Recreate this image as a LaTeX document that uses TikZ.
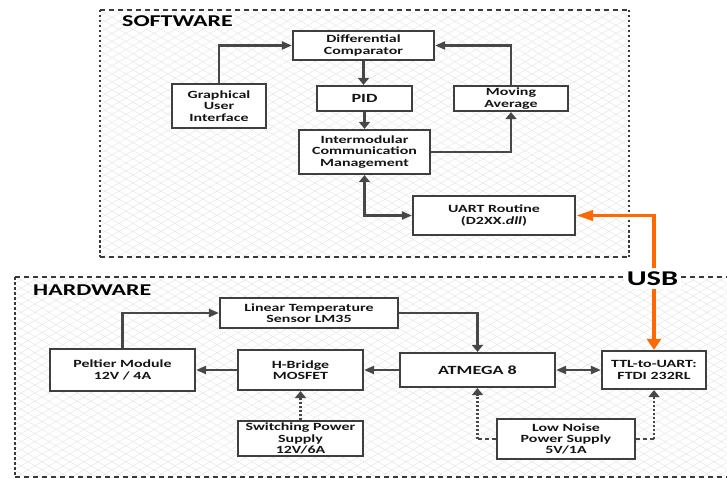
\documentclass[tikz,border=0pt]{standalone}
\usepackage{fontspec}
\setmainfont{Carlito}[FakeStretch=1.45]
\usetikzlibrary{arrows.meta,patterns.meta}
\definecolor{boxc}{HTML}{3F3F3F}
\definecolor{linec}{HTML}{474747}
\definecolor{txtc}{HTML}{151515}
\definecolor{usbc}{HTML}{FF6A00}
\definecolor{hatchc}{HTML}{E2E2E2}
\definecolor{framec}{HTML}{3A3A3A}
\tikzset{
  Htip/.tip={Triangle[length=10pt,width=8pt]},
  Vtip/.tip={Triangle[length=7pt,width=11pt]},
  OHtip/.tip={Triangle[length=17pt,width=10pt]},
  OVtip/.tip={Triangle[length=11pt,width=14pt]},
  blk/.style={draw=boxc, line width=2.2pt, fill=white, align=center, inner sep=0pt,
    text=txtc, font=\bfseries\fontsize{11pt}{11.3pt}\selectfont},
  bigblk/.style={blk, font=\bfseries\fontsize{12.5pt}{13pt}\selectfont},
  conn/.style={draw=linec, line width=2.2pt},
  hdash/.style={line width=2.2pt, draw=framec, dash pattern=on 5pt off 4pt},
  vdot/.style={line width=2.2pt, draw=framec, dash pattern=on 2.5pt off 2.5pt},
  pwrh/.style={line width=2.2pt, draw=linec, dash pattern=on 4pt off 3pt},
  pwrv/.style={line width=2.2pt, draw=linec, dash pattern=on 2pt off 2pt},
  usbline/.style={draw=usbc, line width=3.5pt},
  hatchA/.style={pattern={Lines[angle=30,distance=7pt,line width=0.4pt]}, pattern color=hatchc},
  hatchB/.style={pattern={Lines[angle=-30,distance=7pt,line width=0.4pt]}, pattern color=hatchc},
  title/.style={anchor=west, inner sep=0pt, text=black, font=\bfseries\fontsize{16.5pt}{16.5pt}\selectfont}
}
\begin{document}
\begin{tikzpicture}[x=1pt,y=-1pt]
\useasboundingbox (0,0) rectangle (727,478);
% backgrounds
\fill[hatchA] (100,10) rectangle (629,257);
\fill[hatchB] (100,10) rectangle (629,257);
\fill[hatchA] (15,277) rectangle (727,477);
\fill[hatchB] (15,277) rectangle (727,477);
% software frame
\coordinate (s1) at (100,10);
\coordinate (s2) at (629,10);
\coordinate (s3) at (629,257);
\coordinate (s4) at (100,257);
\draw[hdash] (s1) -- (s2);
\draw[hdash] (s4) -- (s3);
\draw[vdot] (s1) -- (s4);
\draw[vdot] (s2) -- (s3);
% hardware frame
\coordinate (h1) at (15,277);
\coordinate (h2) at (727,277);
\coordinate (h3) at (727,477);
\coordinate (h4) at (15,477);
\draw[hdash] (h1) -- (h2);
\draw[hdash] (h4) -- (h3);
\draw[vdot] (h1) -- (h4);

\node[title] (sw) at (122,21.5) {SOFTWARE};
\node[title] (hw) at (33,290) {HARDWARE};

% software blocks
\node[blk, minimum width=141pt, minimum height=29pt] (dc) at (363.5,45.5) {Differential\\Comparator};
\node[blk, minimum width=94pt, minimum height=44pt] (gui) at (219,106) {Graphical\\User\\Interface};
\node[bigblk, minimum width=95pt, minimum height=25pt] (pid) at (364.5,98.5) {PID};
\node[blk, minimum width=131pt, minimum height=44pt] (icm) at (364.5,152) {Intermodular\\Communication\\Management};
\node[blk, minimum width=162pt, minimum height=39pt] (uart) at (494,215.5) {UART Routine\\(D2XX.\textit{dll})};
\node[blk, minimum width=114pt, minimum height=25pt] (ma) at (511,98.5) {Moving\\Average};

% hardware blocks
\node[blk, minimum width=178pt, minimum height=30pt] (lm) at (309,313) {Linear Temperature\\Sensor LM35};
\node[blk, minimum width=145pt, minimum height=42pt] (pel) at (122.5,370) {Peltier Module\\12V / 4A};
\node[blk, minimum width=125pt, minimum height=40pt] (hb) at (300.5,370) {H-Bridge\\MOSFET};
\node[blk, minimum width=125pt, minimum height=35pt] (sps) at (300.5,438.5) {Switching Power\\Supply\\12V/6A};
\node[bigblk, minimum width=155pt, minimum height=34pt] (atm) at (477.5,370) {ATMEGA 8};
\node[blk, minimum width=104pt, minimum height=38pt] (ttl) at (654,370) {TTL-to-UART:\\FTDI 232RL};
\node[blk, minimum width=138pt, minimum height=40pt] (lnps) at (566,439) {Low Noise\\Power Supply\\5V/1A};

% software connectors
\draw[conn, -Htip] (gui.north) |- (dc.west);
\draw[conn, -Vtip] (dc.south) -- (dc.south |- pid.north);
\draw[conn, -Vtip] (pid.south) -- (pid.south |- icm.north);
\draw[conn, -Vtip] (icm.east) -| (ma.south);
\draw[conn, -Htip] (ma.north) |- (dc.east);
\draw[conn, Vtip-Htip] (icm.south) |- (uart.west);

% hardware connectors
\draw[conn, -Htip] (pel.north) |- (lm.west);
\draw[conn, -Htip] (hb.west) -- (pel.east);
\draw[conn, -Htip] (atm.west) -- (hb.east);
\draw[conn, -Vtip] (lm.east) -| (atm.north);
\draw[conn, Htip-Htip] (atm.east) -- (ttl.west);
\draw[pwrv, -Vtip] (sps.north) -- (hb.south);
\coordinate (la) at (atm.south |- lnps.west);
\coordinate (lt) at (ttl.south |- lnps.east);
\draw[pwrh] (lnps.west) -- (la);
\draw[pwrv, -Vtip] (la) -- (atm.south);
\draw[pwrh] (lnps.east) -- (lt);
\draw[pwrv, -Vtip] (lt) -- (ttl.south);

% USB link
\draw[usbline, OVtip-OHtip] (ttl.north) |- (uart.east);
\node[fill=white, inner sep=0pt, minimum width=57pt, minimum height=21pt, text=black,
  font=\bfseries\fontsize{21pt}{21pt}\selectfont] (usb) at (652.5,278.5) {USB};
\end{tikzpicture}
\end{document}
